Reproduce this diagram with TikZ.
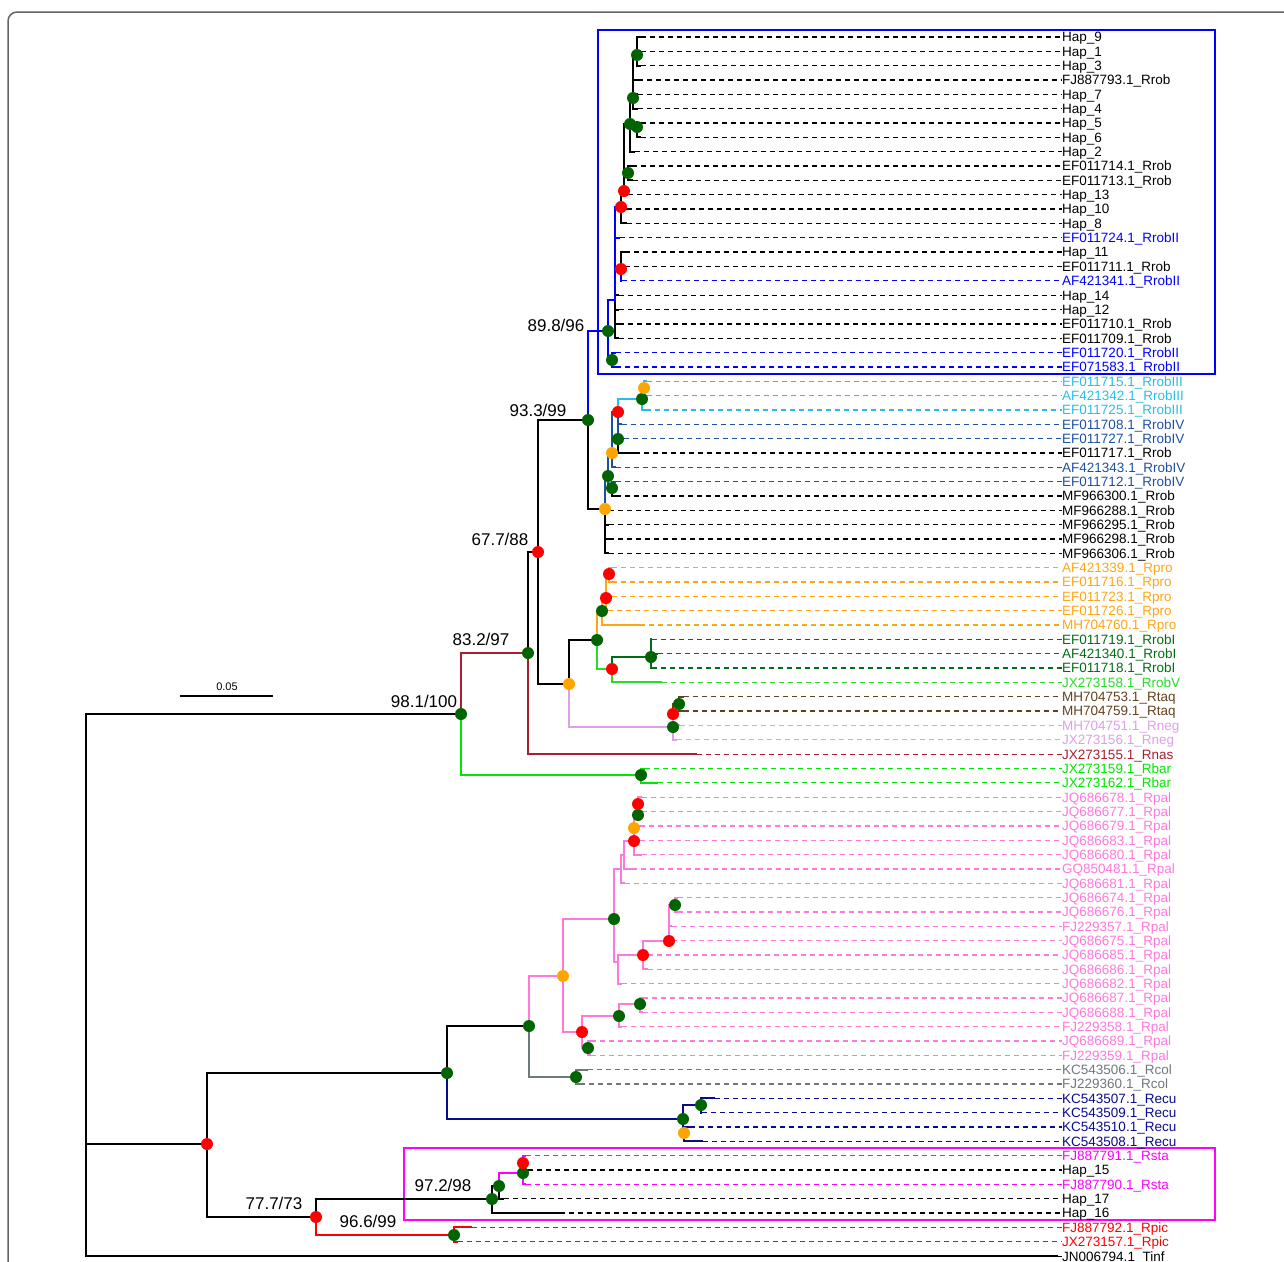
\documentclass[tikz,border=0pt]{standalone}
\usepackage{fontspec}
\setmainfont{Liberation Sans}
\definecolor{cBlue}{RGB}{0,0,255}
\definecolor{cIII}{RGB}{40,190,235}
\definecolor{cIV}{RGB}{30,80,160}
\definecolor{cPro}{RGB}{255,165,20}
\definecolor{cI}{RGB}{0,110,20}
\definecolor{cV}{RGB}{40,220,40}
\definecolor{cTaq}{RGB}{100,65,30}
\definecolor{cNeg}{RGB}{220,160,230}
\definecolor{cNas}{RGB}{170,30,50}
\definecolor{cBar}{RGB}{0,230,0}
\definecolor{cPal}{RGB}{255,120,220}
\definecolor{cCol}{RGB}{110,120,125}
\definecolor{cEcu}{RGB}{10,10,140}
\definecolor{cSta}{RGB}{255,0,255}
\definecolor{cPic}{RGB}{255,0,0}
\definecolor{dGreen}{RGB}{0,100,0}
\definecolor{dRed}{RGB}{255,0,0}
\definecolor{dOrange}{RGB}{255,165,0}
\definecolor{frameGray}{RGB}{100,100,100}
\newcommand\edg[3]{\draw[edge,#1] (#2) |- (#3);}
\begin{document}
\begin{tikzpicture}[x=1pt,y=-1pt,
  edge/.style={line width=2pt},
  dl/.style={line width=1.3pt,dash pattern=on 5pt off 4pt},
  leaf/.style={anchor=west,inner sep=0pt,font=\fontsize{13.5}{14}\selectfont,text height=9.7pt,text depth=0pt},
  boot/.style={inner sep=0pt,font=\fontsize{17}{18}\selectfont},
  gdot/.style={circle,fill=dGreen,inner sep=0pt,minimum size=12pt},
  rdot/.style={circle,fill=dRed,inner sep=0pt,minimum size=12pt},
  odot/.style={circle,fill=dOrange,inner sep=0pt,minimum size=12pt}]
\useasboundingbox (0,0) rectangle (1284,1261);
\clip (0,0) rectangle (1284,1261);
\draw[frameGray,line width=1.5pt,rounded corners=9pt] (8,12) rectangle (1295,1290);
% boxes
\draw[cBlue,line width=2pt] (598,30) rectangle (1215,374);
\draw[cSta,line width=2pt] (404,1148) rectangle (1215,1220);
% leaves
\foreach \i/\tx/\col/\txt in {
1/641/black/Hap\_9, 2/641/black/Hap\_1, 3/641/black/Hap\_3, 4/638/black/FJ887793.1\_Rrob,
5/638/black/Hap\_7, 6/638/black/Hap\_4, 7/641/black/Hap\_5, 8/641/black/Hap\_6,
9/635/black/Hap\_2, 10/632/black/EF011714.1\_Rrob, 11/633/black/EF011713.1\_Rrob, 12/628/black/Hap\_13,
13/627/black/Hap\_10, 14/627/black/Hap\_8, 15/620/cBlue/EF011724.1\_RrobII, 16/625/black/Hap\_11,
17/625/black/EF011711.1\_Rrob, 18/622/cBlue/AF421341.1\_RrobII, 19/619/black/Hap\_14, 20/619/black/Hap\_12,
21/619/black/EF011710.1\_Rrob, 22/619/black/EF011709.1\_Rrob, 23/616/cBlue/EF011720.1\_RrobII, 24/616/cBlue/EF071583.1\_RrobII,
25/647/cIII/EF011715.1\_RrobIII, 26/647/cIII/AF421342.1\_RrobIII, 27/646/cIII/EF011725.1\_RrobIII, 28/622/cIV/EF011708.1\_RrobIV,
29/624/cIV/EF011727.1\_RrobIV, 30/635/black/EF011717.1\_Rrob, 31/616/cIV/AF421343.1\_RrobIV, 32/616/cIV/EF011712.1\_RrobIV,
33/616/black/MF966300.1\_Rrob, 34/609/black/MF966288.1\_Rrob, 35/609/black/MF966295.1\_Rrob, 36/609/black/MF966298.1\_Rrob,
37/609/black/MF966306.1\_Rrob, 38/612/cPro/AF421339.1\_Rpro, 39/612/cPro/EF011716.1\_Rpro, 40/612/cPro/EF011723.1\_Rpro,
41/608/cPro/EF011726.1\_Rpro, 42/640/cPro/MH704760.1\_Rpro, 43/652/cI/EF011719.1\_RrobI, 44/658/cI/AF421340.1\_RrobI,
45/652/cI/EF011718.1\_RrobI, 46/662/cV/JX273158.1\_RrobV, 47/684/cTaq/MH704753.1\_Rtaq, 48/684/cTaq/MH704759.1\_Rtaq,
49/680/cNeg/MH704751.1\_Rneg, 50/677/cNeg/JX273156.1\_Rneg, 51/697/cNas/JX273155.1\_Rnas, 52/645/cBar/JX273159.1\_Rbar,
53/658/cBar/JX273162.1\_Rbar, 54/642/cPal/JQ686678.1\_Rpal, 55/642/cPal/JQ686677.1\_Rpal, 56/640/cPal/JQ686679.1\_Rpal,
57/640/cPal/JQ686683.1\_Rpal, 58/642/cPal/JQ686680.1\_Rpal, 59/632/cPal/GQ850481.1\_Rpal, 60/625/cPal/JQ686681.1\_Rpal,
61/678/cPal/JQ686674.1\_Rpal, 62/678/cPal/JQ686676.1\_Rpal, 63/672/cPal/FJ229357.1\_Rpal, 64/672/cPal/JQ686675.1\_Rpal,
65/648/cPal/JQ686685.1\_Rpal, 66/648/cPal/JQ686686.1\_Rpal, 67/622/cPal/JQ686682.1\_Rpal, 68/643/cPal/JQ686687.1\_Rpal,
69/643/cPal/JQ686688.1\_Rpal, 70/622/cPal/FJ229358.1\_Rpal, 71/591/cPal/JQ686689.1\_Rpal, 72/591/cPal/FJ229359.1\_Rpal,
73/588/cCol/KC543506.1\_Rcol, 74/580/cCol/FJ229360.1\_Rcol, 75/715/cEcu/KC543507.1\_Recu, 76/702/cEcu/KC543509.1\_Recu,
77/690/cEcu/KC543510.1\_Recu, 78/703/cEcu/KC543508.1\_Recu, 79/526/cSta/FJ887791.1\_Rsta, 80/528/black/Hap\_15,
81/526/cSta/FJ887790.1\_Rsta, 82/504/black/Hap\_17, 83/560/black/Hap\_16, 84/472/cPic/FJ887792.1\_Rpic,
85/458/cPic/JX273157.1\_Rpic, 86/1058/black/JN006794.1\_Tinf}{
  \coordinate (t\i) at (\tx,{37+14.343*(\i-1)});
  \node[leaf,text=\col] (l\i) at (1062,{37+14.343*(\i-1)}) {\txt};
  \draw[dl,\col] (t\i) -- (l\i.west);
}
% internal nodes
\coordinate (R) at (86,1144);
\coordinate (N98) at (461,714);
\coordinate (NBar) at (641,775);
\coordinate (N83) at (528,653);
\coordinate (N67) at (538,552);
\coordinate (N93) at (588,420);
\coordinate (N89) at (608,331);
\coordinate (NTop) at (615,300);
\coordinate (NB2) at (612,360);
\coordinate (N13b) at (621,207);
\coordinate (NH11) at (621,269);
\coordinate (N13a) at (624,191);
\coordinate (NG) at (628,173);
\coordinate (NA) at (630,124);
\coordinate (NB) at (633,98);
\coordinate (NC) at (637,127);
\coordinate (ND) at (637,55);
\coordinate (NM) at (605,509);
\coordinate (NG1) at (608,476);
\coordinate (NG2) at (612,488);
\coordinate (NO2) at (612,453);
\coordinate (NR) at (618,412);
\coordinate (NG3) at (618,439);
\coordinate (NCy) at (642,399);
\coordinate (NOc) at (644,388);
\coordinate (NO1) at (569,684);
\coordinate (NPR) at (597,640);
\coordinate (NPro) at (602,611);
\coordinate (NPa) at (606,598);
\coordinate (NPb) at (609,574);
\coordinate (NRI) at (612,669);
\coordinate (NGI) at (651,657);
\coordinate (NV) at (673,727);
\coordinate (NTq) at (673,714);
\coordinate (NTq2) at (679,704);
\coordinate (N207) at (207,1144);
\coordinate (NP) at (447,1073);
\coordinate (NPal) at (529,1026);
\coordinate (NCol) at (576,1077);
\coordinate (NRecu) at (683,1119);
\coordinate (NRe2) at (701,1105);
\coordinate (NRe3) at (684,1133);
\coordinate (NO3) at (563,976);
\coordinate (NPa1) at (614,919);
\coordinate (NPu) at (621,869);
\coordinate (NPu2) at (624,855);
\coordinate (NRp) at (634,841);
\coordinate (NOp) at (634,828);
\coordinate (NGp) at (638,815);
\coordinate (NRp2) at (638,804);
\coordinate (NPd) at (618,962);
\coordinate (NRp3) at (643,955);
\coordinate (NRp4) at (669,941);
\coordinate (NG4) at (675,905);
\coordinate (NPR2) at (582,1032);
\coordinate (NG5) at (619,1016);
\coordinate (NG7) at (640,1004);
\coordinate (NG6) at (588,1048);
\coordinate (N77) at (316,1217);
\coordinate (N96) at (454,1235);
\coordinate (N97) at (492,1199);
\coordinate (NSt) at (499,1186);
\coordinate (NSt2) at (523,1173);
\coordinate (NSt3) at (523,1163);
% edges
\edg{black}{R}{N98} \edg{black}{R}{N207} \edg{black}{R}{t86}
\edg{cNas}{N98}{N83} \edg{cBar}{N98}{NBar}
\edg{cBar}{NBar}{t52} \edg{cBar}{NBar}{t53}
\edg{black}{N83}{N67} \edg{cNas}{N83}{t51}
\edg{black}{N67}{N93} \edg{black}{N67}{NO1}
\edg{black}{N93}{NM} \edg{cBlue}{N93}{N89}
% top clade
\foreach \c in {t1,t2,t3}{\edg{black}{ND}{\c}}
\foreach \c in {ND,t4,t5,t6}{\edg{black}{NB}{\c}}
\foreach \c in {t7,t8}{\edg{black}{NC}{\c}}
\foreach \c in {NB,NC,t9}{\edg{black}{NA}{\c}}
\foreach \c in {t10,t11}{\edg{black}{NG}{\c}}
\foreach \c in {NA,NG,t12}{\edg{black}{N13a}{\c}}
\foreach \c in {N13a,t13,t14}{\edg{black}{N13b}{\c}}
\foreach \c in {t16,t17}{\edg{black}{NH11}{\c}}
\edg{cBlue}{NH11}{t18}
\foreach \c in {t19,t20,t21,t22}{\edg{black}{NTop}{\c}}
\foreach \c in {N13b,t15,NH11}{\edg{cBlue}{NTop}{\c}}
\foreach \c in {t23,t24}{\edg{cBlue}{NB2}{\c}}
\edg{cBlue}{N89}{NTop} \edg{cBlue}{N89}{NB2}
% Rrob III/IV clade
\foreach \c in {t34,t35,t36,t37}{\edg{black}{NM}{\c}}
\edg{cIV}{NM}{NG1}
\edg{cIV}{NG1}{NO2} \edg{cIV}{NG1}{NG2}
\edg{black}{NG2}{t33} \edg{cIV}{NG2}{t32}
\edg{cIV}{NO2}{NR} \edg{cIV}{NO2}{t31}
\edg{cIV}{NR}{t28} \edg{cIV}{NR}{NG3} \edg{cIII}{NR}{NCy}
\edg{cIV}{NG3}{t29} \edg{black}{NG3}{t30}
\edg{cIII}{NCy}{NOc} \edg{cIII}{NCy}{t27}
\edg{cIII}{NOc}{t25} \edg{cIII}{NOc}{t26}
% Rpro / RrobI / Rtaq / Rneg
\edg{black}{NO1}{NPR} \edg{cNeg}{NO1}{NV}
\edg{cPro}{NPR}{NPro} \edg{cV}{NPR}{NRI}
\edg{cPro}{NPro}{NPa} \edg{cPro}{NPro}{t42}
\foreach \c in {NPb,t40,t41}{\edg{cPro}{NPa}{\c}}
\edg{cPro}{NPb}{t38} \edg{cPro}{NPb}{t39}
\edg{cI}{NRI}{NGI} \edg{cV}{NRI}{t46}
\foreach \c in {t43,t44,t45}{\edg{cI}{NGI}{\c}}
\edg{cNeg}{NV}{t50} \edg{cTaq}{NV}{NTq}
\edg{cNeg}{NTq}{t49} \edg{cTaq}{NTq}{NTq2}
\edg{cTaq}{NTq2}{t47} \edg{cTaq}{NTq2}{t48}
% lower part
\edg{black}{N207}{NP} \edg{black}{N207}{N77}
\edg{black}{NP}{NPal} \edg{cEcu}{NP}{NRecu}
\edg{cPal}{NPal}{NO3} \edg{cCol}{NPal}{NCol}
\edg{cCol}{NCol}{t73} \edg{cCol}{NCol}{t74}
\edg{cEcu}{NRecu}{NRe2} \edg{cEcu}{NRecu}{NRe3}
\edg{cEcu}{NRe2}{t75} \edg{cEcu}{NRe2}{t76}
\edg{cEcu}{NRe3}{t77} \edg{cEcu}{NRe3}{t78}
\edg{cPal}{NO3}{NPa1} \edg{cPal}{NO3}{NPR2}
\edg{cPal}{NPa1}{NPu} \edg{cPal}{NPa1}{NPd}
\edg{cPal}{NPu}{NPu2} \edg{cPal}{NPu}{t60}
\edg{cPal}{NPu2}{NRp} \edg{cPal}{NPu2}{t59}
\foreach \c in {NOp,t57,t58}{\edg{cPal}{NRp}{\c}}
\edg{cPal}{NOp}{NGp} \edg{cPal}{NOp}{t56}
\edg{cPal}{NGp}{NRp2} \edg{cPal}{NGp}{t55}
\edg{cPal}{NRp2}{t54}
\edg{cPal}{NPd}{NRp3} \edg{cPal}{NPd}{t67}
\foreach \c in {NRp4,t65,t66}{\edg{cPal}{NRp3}{\c}}
\foreach \c in {NG4,t63,t64}{\edg{cPal}{NRp4}{\c}}
\edg{cPal}{NG4}{t61} \edg{cPal}{NG4}{t62}
\edg{cPal}{NPR2}{NG5} \edg{cPal}{NPR2}{NG6}
\edg{cPal}{NG5}{NG7} \edg{cPal}{NG5}{t70}
\edg{cPal}{NG7}{t68} \edg{cPal}{NG7}{t69}
\edg{cPal}{NG6}{t71} \edg{cPal}{NG6}{t72}
\edg{black}{N77}{N97} \edg{cPic}{N77}{N96}
\edg{cPic}{N96}{t84} \edg{cPic}{N96}{t85}
\edg{black}{N97}{NSt} \edg{black}{N97}{t83}
\edg{cSta}{NSt}{NSt2} \edg{black}{NSt}{t82}
\edg{cSta}{NSt2}{NSt3} \edg{black}{NSt2}{t80} \edg{cSta}{NSt2}{t81}
\edg{cSta}{NSt3}{t79}
% dots
\foreach \n in {N98,NBar,N83,N93,N89,NB2,NG,NA,NB,NC,ND,NG1,NG2,NG3,NCy,NPR,NPro,NGI,NV,NTq2,NP,NPal,NCol,NRecu,NRe2,NPa1,NGp,NG4,NG5,NG7,NG6,N96,N97,NSt,NSt2}{\node[gdot] (d\n) at (\n) {};}
\foreach \n in {N67,N13b,N13a,NH11,NR,NPa,NPb,NRI,NTq,N207,NRp,NRp2,NRp3,NRp4,NPR2,N77,NSt3}{\node[rdot] (d\n) at (\n) {};}
\foreach \n in {NM,NO2,NOc,NO1,NRe3,NO3,NOp}{\node[odot] (d\n) at (\n) {};}
% support labels
\node[boot] (b98) at (424,701) {98.1/100};
\node[boot] (b83) at (481,639) {83.2/97};
\node[boot] (b67) at (500,539) {67.7/88};
\node[boot] (b93) at (538,410) {93.3/99};
\node[boot] (b89) at (556,325) {89.8/96};
\node[boot] (b77) at (274,1203) {77.7/73};
\node[boot] (b97) at (443,1185) {97.2/98};
\node[boot] (b96) at (368,1221) {96.6/99};
% scale bar
\coordinate (sbA) at (180,696);
\coordinate (sbB) at (273,696);
\draw[line width=2pt] (sbA) -- (sbB);
\node[inner sep=0pt,font=\fontsize{11}{12}\selectfont] (sbl) at (227,687) {0.05};
\end{tikzpicture}
\end{document}
